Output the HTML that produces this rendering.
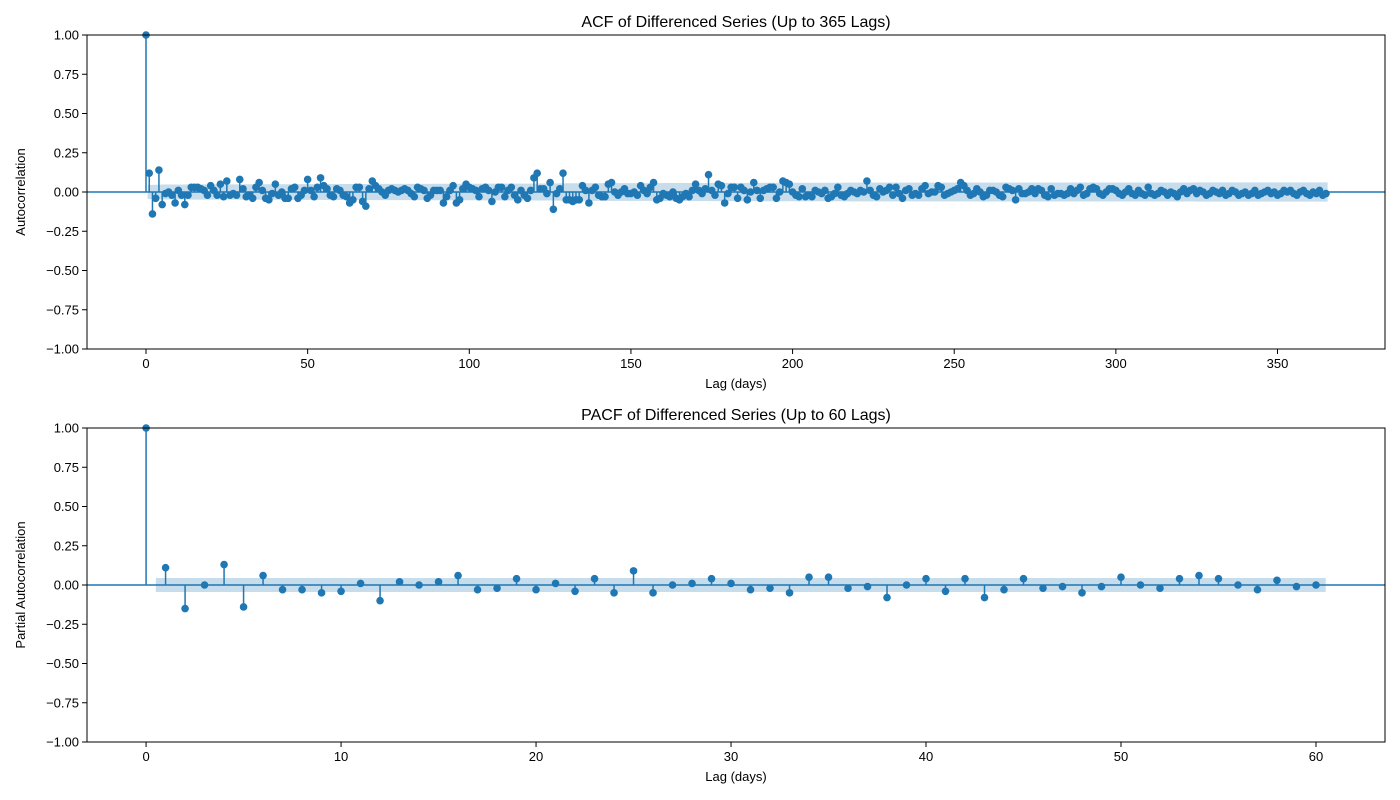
<!DOCTYPE html>
<html><head><meta charset="utf-8"><style>
html,body{margin:0;padding:0;background:#fff;}
svg{display:block;font-family:"Liberation Sans","DejaVu Sans",sans-serif;}
</style></head>
<body>
<svg id="fig" width="1400" height="800" xmlns="http://www.w3.org/2000/svg"></svg>
<script>
const acfValues = [1,0.12,-0.14,-0.04,0.14,-0.08,-0.01,0.00,-0.02,-0.07,
0.01,-0.02,-0.08,-0.02,0.03,0.03,0.03,0.02,0.01,-0.02,
0.04,0.01,-0.02,0.05,-0.03,0.07,-0.02,-0.01,-0.02,0.08,
0.02,-0.03,-0.02,-0.04,0.03,0.06,0.01,-0.04,-0.05,-0.01,
0.05,-0.02,0.00,-0.04,-0.04,0.02,0.03,-0.04,-0.02,0.01,
0.08,0.01,-0.03,0.03,0.09,0.04,0.02,-0.02,-0.03,0.02,
0.01,-0.02,-0.03,-0.07,-0.05,0.03,0.03,-0.06,-0.09,0.02,
0.07,0.04,0.02,0.00,-0.02,0.01,0.02,0.01,0.00,0.01,
0.02,0.01,-0.01,-0.03,0.03,0.02,0.01,-0.04,-0.02,0.01,
0.01,0.01,-0.07,-0.03,0.01,0.04,-0.07,-0.05,0.02,0.05,
0.03,0.02,0.01,-0.03,0.02,0.03,0.01,-0.06,0.00,0.03,
0.03,-0.03,0.01,0.03,-0.02,-0.05,0.01,-0.02,-0.04,0.01,
0.09,0.12,0.02,0.02,-0.01,0.06,-0.11,-0.01,0.02,0.12,
-0.05,-0.05,-0.06,-0.05,-0.05,0.04,0.01,-0.07,0.01,0.03,
-0.02,-0.03,-0.03,0.05,0.06,0.00,-0.02,0.00,0.02,-0.01,
-0.01,0.00,-0.02,0.04,0.01,-0.01,0.03,0.06,-0.05,-0.04,
-0.01,-0.02,-0.03,0.00,-0.04,-0.05,-0.03,-0.01,-0.03,0.01,
0.05,0.01,-0.01,0.02,0.11,0.01,-0.02,0.05,0.04,-0.07,
-0.01,0.03,0.03,-0.04,0.03,0.01,-0.05,0.00,0.06,0.01,
-0.04,0.01,0.02,0.03,0.03,-0.04,0.00,0.07,0.06,0.05,
0.00,-0.02,-0.03,0.02,-0.03,-0.02,-0.03,0.01,0.00,-0.01,
0.01,-0.04,-0.03,-0.01,0.03,-0.02,-0.03,-0.01,0.01,0.00,
-0.01,0.01,0.00,0.07,0.01,-0.02,-0.03,0.02,0.00,0.01,
0.03,-0.02,0.03,-0.01,-0.04,0.01,0.02,-0.02,-0.01,-0.02,
0.02,0.04,-0.01,0.00,0.00,0.04,0.03,-0.02,-0.01,0.00,
0.01,0.02,0.06,0.04,0.01,-0.02,-0.01,0.02,0.00,-0.03,
-0.02,0.01,0.01,0.00,-0.02,-0.03,0.03,0.02,0.01,-0.05,
0.02,-0.01,-0.01,0.00,0.02,-0.01,0.02,0.01,-0.02,-0.03,
0.02,-0.02,-0.01,-0.01,-0.02,-0.01,0.02,-0.01,0.01,0.03,
-0.02,-0.01,0.02,0.03,0.02,-0.01,-0.02,0.00,0.02,0.02,
0.01,-0.01,-0.02,0.00,0.02,-0.01,-0.02,0.01,-0.01,-0.02,
0.03,-0.01,-0.02,-0.01,0.01,0.00,-0.02,0.00,-0.01,-0.03,
0.00,0.02,-0.01,0.01,0.02,-0.01,0.01,0.00,-0.02,-0.01,
0.01,0.00,-0.01,0.01,-0.02,-0.01,0.01,0.00,-0.02,-0.01,
0.00,-0.02,-0.01,0.01,-0.02,-0.01,0.00,0.01,-0.01,0.00,
-0.02,-0.01,0.01,0.00,0.01,-0.01,-0.02,0.00,0.01,-0.01,
-0.02,0.00,-0.01,0.01,-0.02,-0.01];
const pacfValues = [1,0.11,-0.15,0.0,0.13,-0.14,0.06,-0.03,-0.03,-0.05,
-0.04,0.01,-0.10,0.02,0.0,0.02,0.06,-0.03,-0.02,0.04,
-0.03,0.01,-0.04,0.04,-0.05,0.09,-0.05,0.0,0.01,0.04,
0.01,-0.03,-0.02,-0.05,0.05,0.05,-0.02,-0.01,-0.08,0.0,
0.04,-0.04,0.04,-0.08,-0.03,0.04,-0.02,-0.01,-0.05,-0.01,
0.05,0.0,-0.02,0.04,0.06,0.04,0.0,-0.03,0.03,-0.01,0.0];
const yTicks = [-1.00,-0.75,-0.50,-0.25,0.00,0.25,0.50,0.75,1.00];
const acfXTicks = [0,50,100,150,200,250,300,350];
const pacfXTicks = [0,10,20,30,40,50,60];
const nObs = 1900;

const NS="http://www.w3.org/2000/svg";
const svg=document.getElementById('fig');
const C="#1f77b4";
function mk(tag,attrs,parent){const e=document.createElementNS(NS,tag);for(const k in attrs)e.setAttribute(k,attrs[k]);(parent||svg).appendChild(e);return e;}

function panel(cfg){
  const g=mk('g',{});
  
  
  const {x0,x1,y0,y1,xmin,xmax}=cfg;
  const sx=v=>x0+(v-xmin)/(xmax-xmin)*(x1-x0);
  const sy=v=>y1-(v+1)/2*(y1-y0);
  const vals=cfg.values;
  let up=[],lo=[];
  let ss=0;
  for(let k=1;k<vals.length;k++){
    let w;
    if(cfg.bartlett){w=1.96*Math.sqrt((1+2*ss)/nObs); ss+=vals[k]*vals[k];}
    else w=1.96/Math.sqrt(nObs);
    const xa = k===1? k-0.5 : k;
    up.push([sx(xa),sy(w)]);lo.push([sx(xa),sy(-w)]);
    if(k===vals.length-1){up.push([sx(k+0.5),sy(w)]);lo.push([sx(k+0.5),sy(-w)]);}
  }
  const pts=up.concat(lo.reverse()).map(p=>p.join(',')).join(' ');
  const band=mk('polygon',{points:pts,fill:C,'fill-opacity':0.25,stroke:'none'},g);
  
  
  const zl=mk('line',{x1:x0,x2:x1,y1:sy(0),y2:sy(0),stroke:C,'stroke-width':1.5},g);
  
  
  for(let k=0;k<vals.length;k++){
    const st=mk('line',{x1:sx(k),x2:sx(k),y1:sy(0),y2:sy(vals[k]),stroke:C,'stroke-width':1.5},g);
    
    
    const c=mk('circle',{cx:sx(k),cy:sy(vals[k]),r:3.8,fill:C},g);
    
    
  }
  const fr=mk('rect',{x:x0,y:y0,width:x1-x0,height:y1-y0,fill:'none',stroke:'#000','stroke-width':1},g);
  
  
  yTicks.forEach(t=>{
    const y=sy(t);
    mk('line',{x1:x0-5,x2:x0,y1:y,y2:y,stroke:'#000','stroke-width':1},g);
    const tx=mk('text',{x:x0-8,y:y+4.5,'text-anchor':'end','font-size':13,fill:'#000'},g);
    tx.textContent=t.toFixed(2).replace('-','\u2212');
    
    
  });
  cfg.xticks.forEach(t=>{
    const x=sx(t);
    mk('line',{x1:x,x2:x,y1:y1,y2:y1+5,stroke:'#000','stroke-width':1},g);
    const tx=mk('text',{x:x,y:y1+19,'text-anchor':'middle','font-size':13,fill:'#000'},g);
    tx.textContent=t;
    
    
  });
  const ti=mk('text',{x:(x0+x1)/2,y:y0-8,'text-anchor':'middle','font-size':16,fill:'#000'},g);
  ti.textContent=cfg.title;
  
  
  const xl=mk('text',{x:(x0+x1)/2,y:y1+39,'text-anchor':'middle','font-size':13,fill:'#000'},g);
  xl.textContent='Lag (days)';
  
  
  const yl=mk('text',{x:0,y:0,'text-anchor':'middle','font-size':13,fill:'#000',transform:`translate(25,${(y0+y1)/2}) rotate(-90)`},g);
  yl.textContent=cfg.ylabel;
  
  
}
panel({name:'acf-chart',x0:87,x1:1385,y0:35,y1:349,xmin:-18.25,xmax:383.25,values:acfValues,bartlett:true,xticks:acfXTicks,title:'ACF of Differenced Series (Up to 365 Lags)',ylabel:'Autocorrelation'});
panel({name:'pacf-chart',x0:87,x1:1385,y0:428,y1:742,xmin:-3.03,xmax:63.54,values:pacfValues,bartlett:false,xticks:pacfXTicks,title:'PACF of Differenced Series (Up to 60 Lags)',ylabel:'Partial Autocorrelation'});
</script>
</body></html>
